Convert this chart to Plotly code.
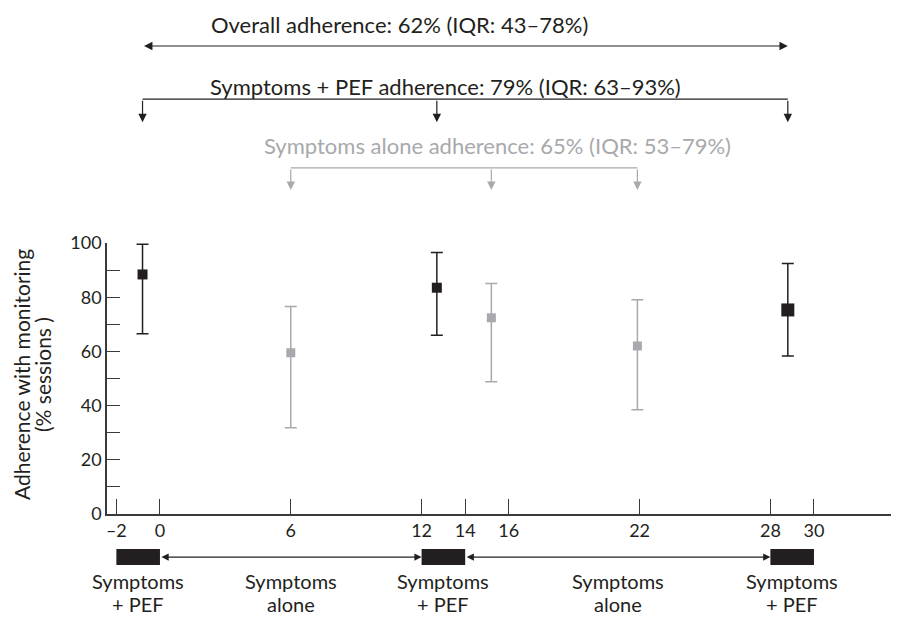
import plotly.graph_objects as go

# ---- data ----
pef_weeks = [-0.8, 12.7, 28.8]
pef_mean = [88.4, 83.5, 75.3]
pef_upper = [99.5, 96.5, 92.4]
pef_lower = [66.5, 66.0, 58.3]

sym_weeks = [6.0, 15.2, 21.9]
sym_mean = [59.5, 72.4, 62.0]
sym_upper = [76.6, 85.1, 79.1]
sym_lower = [31.8, 48.8, 38.5]

x_ticks = [-2, 0, 6, 12, 14, 16, 22, 28, 30]
y_ticks = [0, 20, 40, 60, 80, 100]

pef_periods = [(-2, 0), (12, 14), (28, 30)]
alone_periods = [(0, 12), (14, 28)]
pef_period_lines = ["Symptoms", "+ PEF"]
alone_period_lines = ["Symptoms", "alone"]

overall_label = "Overall adherence: 62% (IQR: 43–78%)"
pef_label = "Symptoms + PEF adherence: 79% (IQR: 63–93%)"
alone_label = "Symptoms alone adherence: 65% (IQR: 53–79%)"
y_title_lines = ["Adherence with monitoring", "(% sessions )"]

BLACK = "#231f20"
GREY = "#a7a9ac"
AXIS = "#3a3a3a"
FONT = "Lato"

fig = go.Figure()


def err_trace(xs, mean, upper, lower, color):
    return go.Scatter(
        x=xs, y=mean, mode="markers",
        marker=dict(size=1, opacity=0),
        error_y=dict(type="data", symmetric=False,
                     array=[u - m for u, m in zip(upper, mean)],
                     arrayminus=[m - l for m, l in zip(mean, lower)],
                     color=color, thickness=1.5, width=6),
        showlegend=False, cliponaxis=False)


fig.add_trace(err_trace(pef_weeks, pef_mean, pef_upper, pef_lower, BLACK))
fig.add_trace(err_trace(sym_weeks, sym_mean, sym_upper, sym_lower, GREY))
fig.add_trace(go.Scatter(
    x=pef_weeks, y=pef_mean, mode="markers",
    marker=dict(symbol="square", size=[10, 10, 13], color=BLACK, opacity=1, line=dict(width=0)),
    showlegend=False, cliponaxis=False))
fig.add_trace(go.Scatter(
    x=sym_weeks, y=sym_mean, mode="markers",
    marker=dict(symbol="square", size=9, color=GREY, opacity=1, line=dict(width=0)),
    showlegend=False, cliponaxis=False))

shapes = []
annotations = []


def text_ann(x, y, text, color=BLACK, size=22, xref="x", angle=0):
    return dict(x=x, y=y, xref=xref, yref="paper", text=text, showarrow=False,
                xanchor="center", yanchor="middle", textangle=angle,
                font=dict(size=size, color=color, family=FONT))


# ---- summary brackets above the plot ----
annotations.append(text_ann(11.0, 1.808, overall_label))
annotations.append(dict(x=pef_weeks[-1], y=1.727, xref="x", yref="paper",
                        ax=pef_weeks[0], ay=0, axref="x", ayref="pixel",
                        text="", showarrow=True, arrowside="end+start",
                        arrowhead=2, arrowsize=1.4, arrowwidth=1.2, arrowcolor=BLACK))

annotations.append(text_ann(13.1, 1.576, pef_label))
shapes.append(dict(type="line", xref="x", yref="paper", x0=pef_weeks[0], x1=pef_weeks[-1],
                   y0=1.531, y1=1.531, line=dict(color=BLACK, width=1.3)))
for wx in pef_weeks:
    annotations.append(dict(x=wx, y=1.446, xref="x", yref="paper", ax=0, ay=-23,
                            text="", showarrow=True, arrowhead=2, arrowsize=1.4,
                            arrowwidth=1.2, arrowcolor=BLACK))

annotations.append(text_ann(15.5, 1.358, alone_label, color=GREY))
shapes.append(dict(type="line", xref="x", yref="paper", x0=sym_weeks[0], x1=sym_weeks[-1],
                   y0=1.277, y1=1.277, line=dict(color=GREY, width=1.3)))
for wx in sym_weeks:
    annotations.append(dict(x=wx, y=1.196, xref="x", yref="paper", ax=0, ay=-22,
                            text="", showarrow=True, arrowhead=2, arrowsize=1.4,
                            arrowwidth=1.2, arrowcolor=GREY))

# ---- study timeline below the axis ----
for a, b in pef_periods:
    shapes.append(dict(type="rect", xref="x", yref="paper", x0=a, x1=b,
                       y0=-0.188, y1=-0.129, fillcolor=BLACK, line=dict(width=0)))
    annotations.append(text_ann((a + b) / 2, -0.248, pef_period_lines[0], size=20))
    annotations.append(text_ann((a + b) / 2, -0.333, pef_period_lines[1], size=20))
for a, b in alone_periods:
    annotations.append(dict(x=b, y=-0.159, xref="x", yref="paper",
                            ax=a, ay=0, axref="x", ayref="pixel",
                            text="", showarrow=True, arrowside="end+start",
                            arrowhead=2, arrowsize=1.2, arrowwidth=1.2, arrowcolor=BLACK))
    annotations.append(text_ann((a + b) / 2, -0.248, alone_period_lines[0], size=20))
    annotations.append(text_ann((a + b) / 2, -0.333, alone_period_lines[1], size=20))

# ---- y axis title (two lines, rotated) ----
annotations.append(text_ann(-0.1073, 0.513, y_title_lines[0], size=21, xref="paper", angle=-90))
annotations.append(text_ann(-0.0808, 0.513, y_title_lines[1], size=21, xref="paper", angle=-90))

fig.update_layout(
    width=891, height=609,
    margin=dict(l=99, r=0, t=235, b=103),
    paper_bgcolor="white", plot_bgcolor="white",
    font=dict(family=FONT, size=18, color=BLACK),
    shapes=shapes, annotations=annotations,
    hovermode=False,
    xaxis=dict(range=[-2.43, 33.9], tickvals=x_ticks,
               ticktext=[str(t).replace("-", "–") for t in x_ticks],
               showgrid=False, zeroline=False, showline=True, linecolor=AXIS, linewidth=1.5,
               ticks="inside", ticklen=15, tickwidth=1.3, tickcolor=AXIS,
               tickfont=dict(size=18, color=BLACK, family=FONT)),
    yaxis=dict(range=[0, 100], tickvals=y_ticks, showgrid=False, zeroline=False,
               showline=True, linecolor=AXIS, linewidth=1.5,
               ticks="inside", ticklen=13, tickwidth=1.3, tickcolor=AXIS,
               minor=dict(dtick=10, ticks="inside", ticklen=13, tickwidth=1.3, tickcolor=AXIS),
               tickfont=dict(size=18, color=BLACK, family=FONT)),
)

fig.write_html("out.html")
